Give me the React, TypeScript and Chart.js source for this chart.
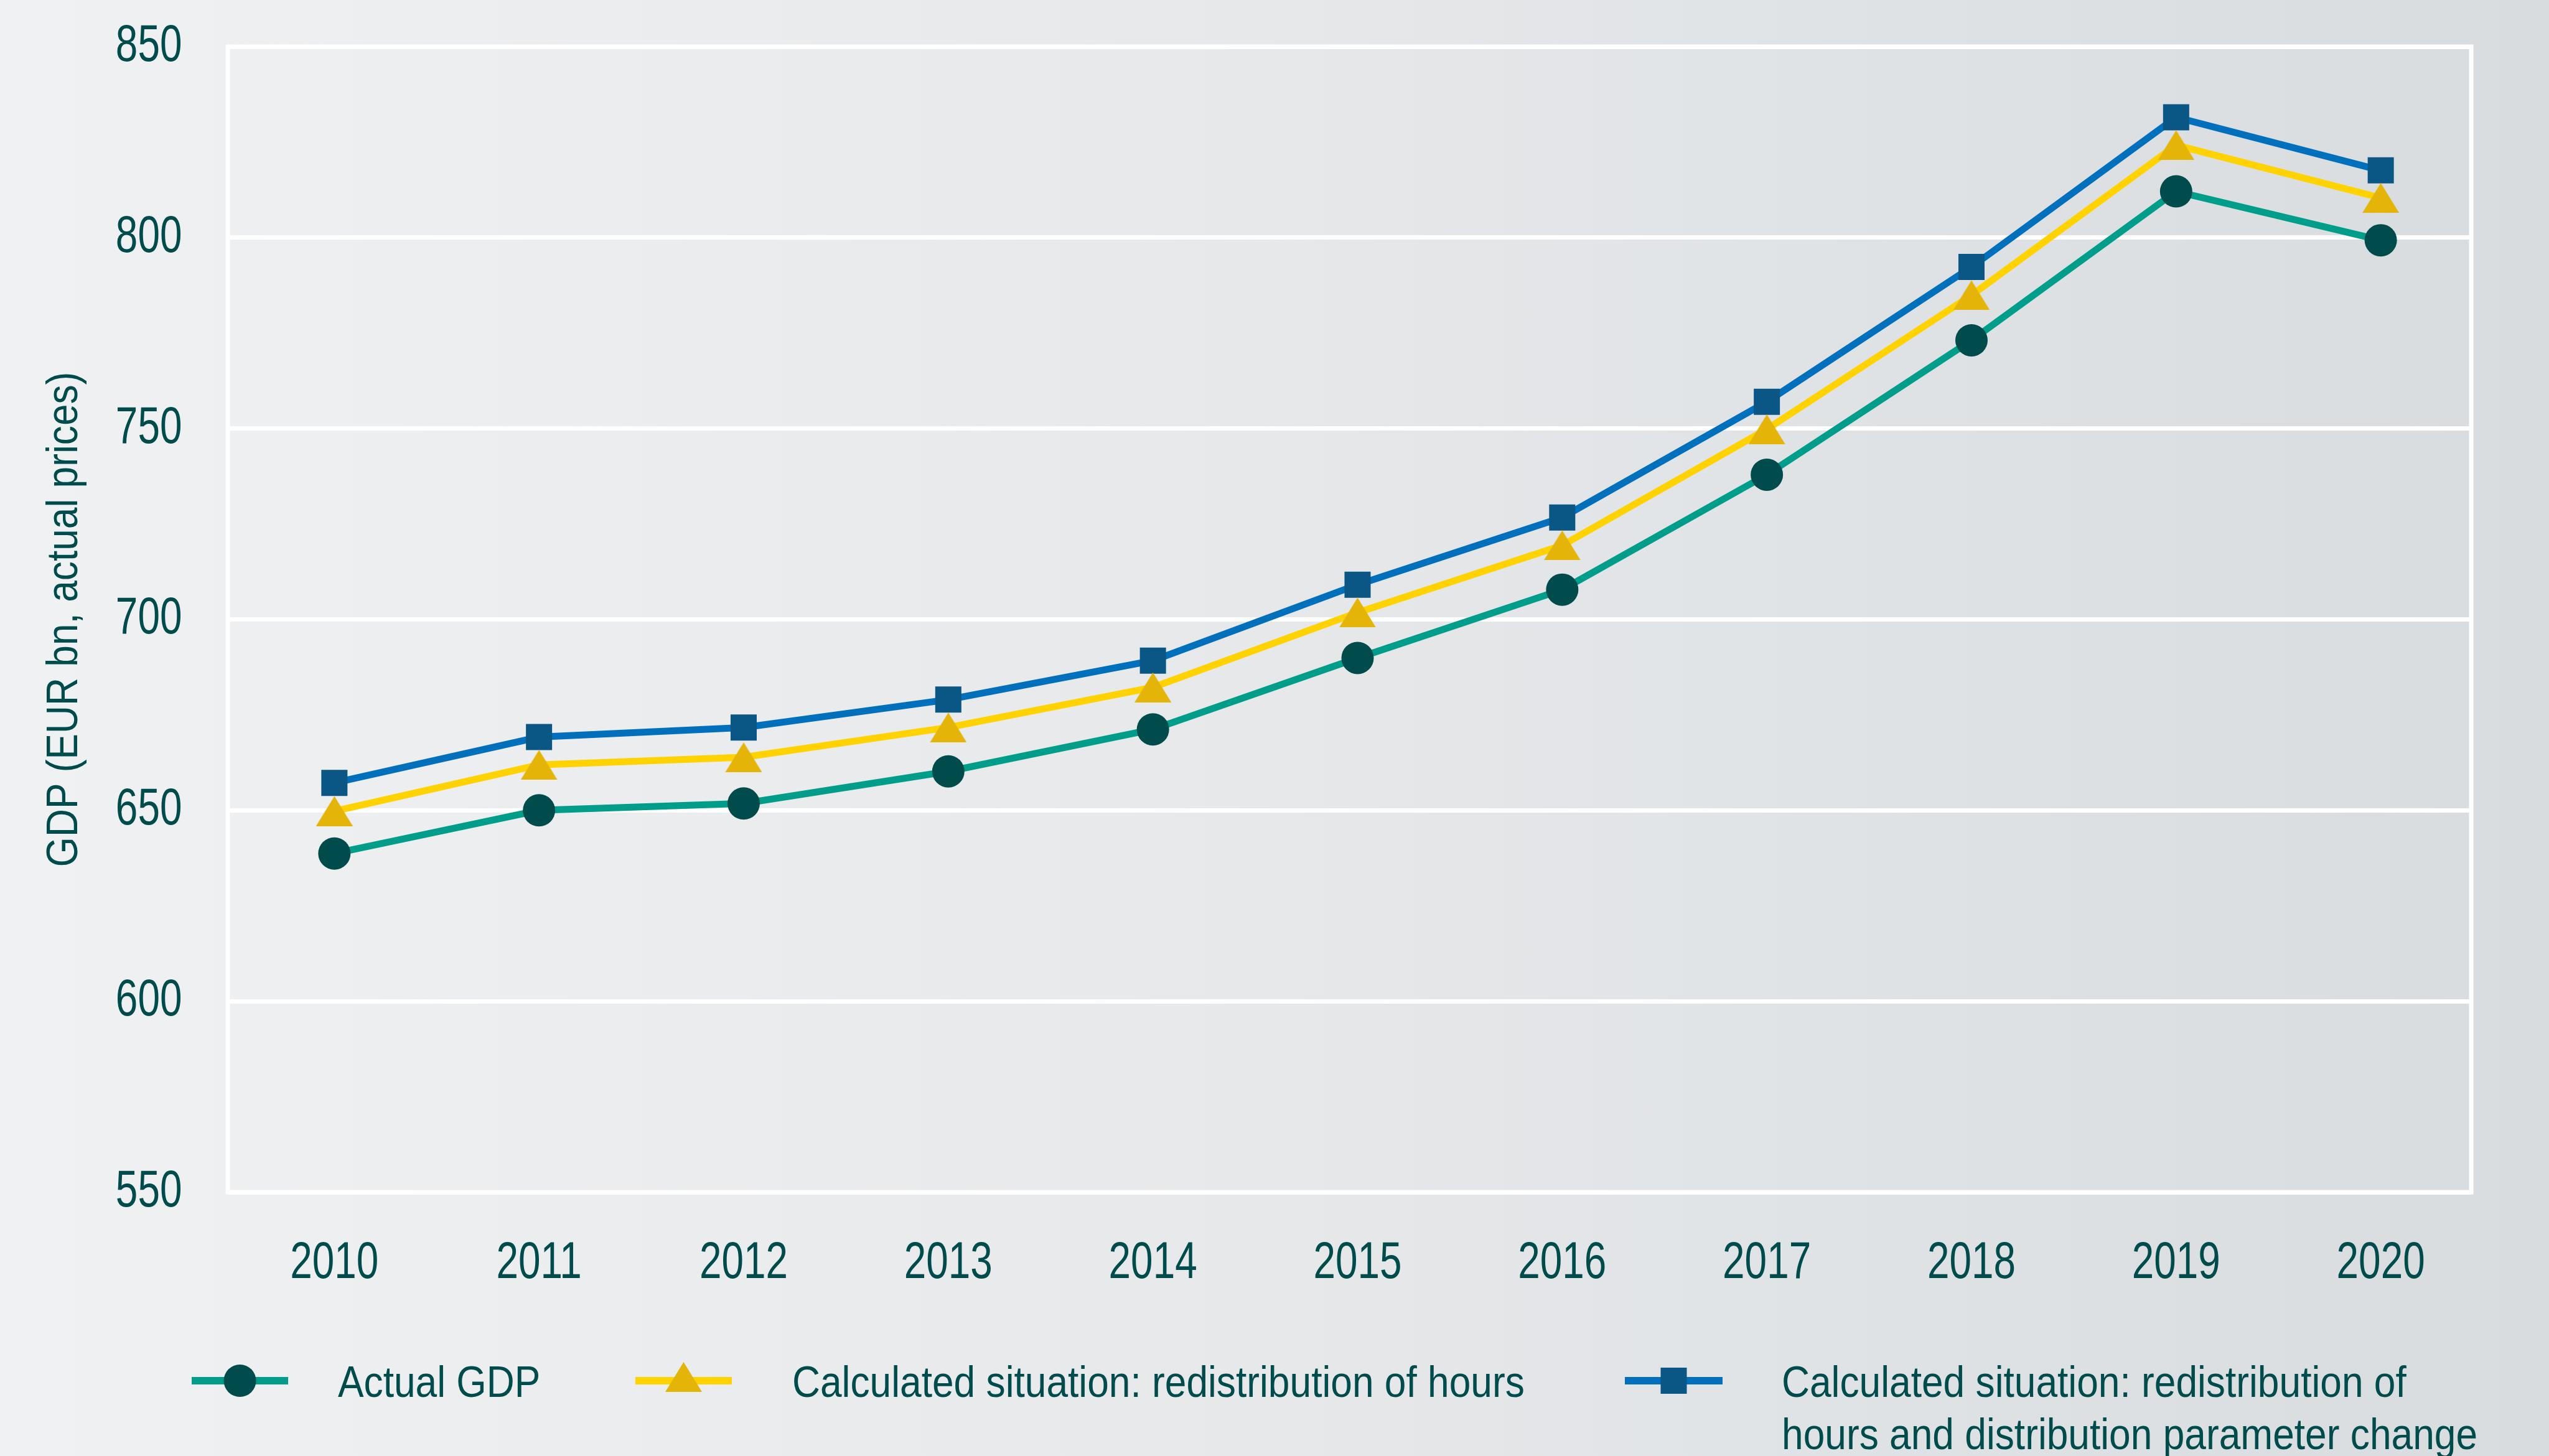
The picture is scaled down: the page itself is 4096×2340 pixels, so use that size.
import React, { useEffect, useRef } from "react";
import { Chart, registerables } from "chart.js";

Chart.register(...registerables);

// ---- data ----
const years = [2010, 2011, 2012, 2013, 2014, 2015, 2016, 2017, 2018, 2019, 2020];
const actualGdp = [638.7, 650.0, 651.8, 660.2, 671.2, 689.9, 707.8, 737.9, 773.1, 812.1, 799.3];
const redistributionOfHours = [649.8, 661.9, 663.9, 671.7, 682.2, 701.8, 719.4, 749.8, 784.9, 824.2, 810.4];
const hoursAndParameterChange = [657.2, 669.2, 671.7, 679.0, 689.2, 709.1, 726.7, 757.0, 792.3, 831.5, 817.6];
const seriesLabels: string[][] = [
  ["Actual GDP"],
  ["Calculated situation: redistribution of hours"],
  ["Calculated situation: redistribution of", "hours and distribution parameter change"],
];
const xMin = 2009.479;
const xMax = 2020.442;
const yMin = 550;
const yMax = 850;
const yStep = 50;
const yAxisTitle = "GDP (EUR bn, actual prices)";

// ---- style ----
const W = 4096;
const H = 2340;
const FONT = "'Liberation Sans', Arial, sans-serif";
const TEXT = "#004B4B";
const TICK_SIZE = 83;
const SMALL_SIZE = 71;

function makeTriangle(w: number, h: number, color: string) {
  const c = document.createElement("canvas");
  c.width = w;
  c.height = h;
  const g = c.getContext("2d")!;
  g.fillStyle = color;
  g.beginPath();
  g.moveTo(0, h);
  g.lineTo(w / 2, 0);
  g.lineTo(w, h);
  g.closePath();
  g.fill();
  return c;
}

function toPoints(values: number[]) {
  return years.map((yr, i) => ({ x: yr, y: values[i] }));
}

// condensed rendering of text (reference uses a condensed typeface)
const condense = {
  id: "condense",
  beforeInit(chart: any) {
    const ctx = chart.ctx as CanvasRenderingContext2D;
    const orig = CanvasRenderingContext2D.prototype.fillText;
    (ctx as any).fillText = function (text: string, x: number, y: number) {
      const m = /(\d+(?:\.\d+)?)px/.exec(ctx.font);
      const size = m ? parseFloat(m[1]) : 0;
      const sx = size >= 80 ? 0.77 : 0.877;
      ctx.save();
      ctx.translate(x, y);
      ctx.scale(sx, 1);
      orig.call(ctx, text, 0, 0);
      ctx.restore();
    };
  },
};

const plotBorder = {
  id: "plotBorder",
  beforeDatasetsDraw(chart: any) {
    const { ctx, chartArea } = chart;
    ctx.save();
    ctx.strokeStyle = "#ffffff";
    ctx.lineWidth = 7;
    ctx.strokeRect(chartArea.left, chartArea.top, chartArea.right - chartArea.left, chartArea.bottom - chartArea.top);
    ctx.restore();
  },
};

const legendPos = [
  { x0: 308, x1: 463, tx: 543 },
  { x0: 1021, x1: 1176, tx: 1273 },
  { x0: 2611, x1: 2768, tx: 2863 },
];

const customLegend = {
  id: "customLegend",
  afterDraw(chart: any) {
    const ctx = chart.ctx as CanvasRenderingContext2D;
    const ly = 2219;
    chart.data.datasets.forEach((ds: any, i: number) => {
      const p = legendPos[i];
      ctx.save();
      ctx.strokeStyle = ds.borderColor;
      ctx.lineWidth = 12;
      ctx.beginPath();
      ctx.moveTo(p.x0, ly);
      ctx.lineTo(p.x1, ly);
      ctx.stroke();
      const cx = (p.x0 + p.x1) / 2;
      ctx.fillStyle = ds.pointBackgroundColor;
      const st = ds.pointStyle;
      if (st === "circle") {
        ctx.beginPath();
        ctx.arc(cx, ly, ds.pointRadius, 0, Math.PI * 2);
        ctx.fill();
      } else if (st === "rect") {
        const s = ds.pointRadius * Math.SQRT1_2;
        ctx.fillRect(cx - s, ly - s, 2 * s, 2 * s);
      } else if (st && st.width) {
        ctx.drawImage(st, cx - st.width / 2, ly - 6 - st.height / 2);
      }
      ctx.fillStyle = TEXT;
      ctx.font = `${SMALL_SIZE}px ${FONT}`;
      ctx.textBaseline = "alphabetic";
      ctx.textAlign = "left";
      (ds.legendLines as string[]).forEach((t, k) => {
        ctx.fillText(t, p.tx, 2245 + k * 84);
      });
      ctx.restore();
    });
  },
};

export default function App() {
  const ref = useRef<HTMLCanvasElement | null>(null);
  useEffect(() => {
    if (!ref.current) return;
    const tri = makeTriangle(59, 48, "#E4B508");
    const chart = new Chart(ref.current, {
      type: "line",
      data: {
        datasets: [
          {
            label: seriesLabels[0].join(" "),
            legendLines: seriesLabels[0],
            data: toPoints(actualGdp),
            borderColor: "#009E8A",
            borderWidth: 11,
            pointStyle: "circle",
            pointRadius: 26,
            pointBackgroundColor: "#004B4B",
            pointBorderWidth: 0,
            tension: 0,
          } as any,
          {
            label: seriesLabels[1].join(" "),
            legendLines: seriesLabels[1],
            data: toPoints(redistributionOfHours),
            borderColor: "#FFD200",
            borderWidth: 11,
            pointStyle: tri,
            pointRadius: 30,
            pointBackgroundColor: "#E4B508",
            pointBorderWidth: 0,
            tension: 0,
          } as any,
          {
            label: seriesLabels[2].join(" "),
            legendLines: seriesLabels[2],
            data: toPoints(hoursAndParameterChange),
            borderColor: "#0070BC",
            borderWidth: 11,
            pointStyle: "rect",
            pointRadius: 29.7,
            pointBackgroundColor: "#0A5684",
            pointBorderWidth: 0,
            tension: 0,
          } as any,
        ],
      },
      options: {
        responsive: false,
        animation: false,
        layout: { padding: { left: 0, top: 75, right: 125, bottom: 224 } },
        plugins: {
          legend: { display: false },
          tooltip: { enabled: false },
        },
        scales: {
          x: {
            type: "linear",
            min: xMin,
            max: xMax,
            grid: { display: false },
            border: { display: false },
            ticks: {
              stepSize: 1,
              includeBounds: false,
              color: TEXT,
              font: { family: FONT, size: TICK_SIZE },
              padding: 57,
              maxRotation: 0,
              autoSkip: false,
              callback: (v: any) => String(v),
            },
            afterFit: (s: any) => {
              s.height = 200;
              s.paddingLeft = 0;
              s.paddingRight = 0;
            },
          },
          y: {
            min: yMin,
            max: yMax,
            ticks: {
              stepSize: yStep,
              color: TEXT,
              font: { family: FONT, size: TICK_SIZE },
              padding: 73.5,
            },
            grid: { color: "#ffffff", lineWidth: 7, drawTicks: false },
            border: { display: false },
            title: {
              display: true,
              text: yAxisTitle,
              color: TEXT,
              font: { family: FONT, size: SMALL_SIZE },
              padding: { top: 62, bottom: 0 },
            },
            afterFit: (s: any) => {
              s.width = 366;
              s.paddingTop = 0;
              s.paddingBottom = 0;
            },
          },
        },
      } as any,
      plugins: [condense, plotBorder, customLegend],
    });
    return () => chart.destroy();
  }, []);

  return (
    <div
      style={{
        position: "absolute",
        left: 0,
        top: 0,
        width: W,
        height: H,
        background: "linear-gradient(to right, #F0F1F3 0%, #E6E8EA 50%, #D8DCDF 100%)",
      }}
    >
      <canvas ref={ref} width={W} height={H} style={{ width: W, height: H, display: "block" }} />
    </div>
  );
}
